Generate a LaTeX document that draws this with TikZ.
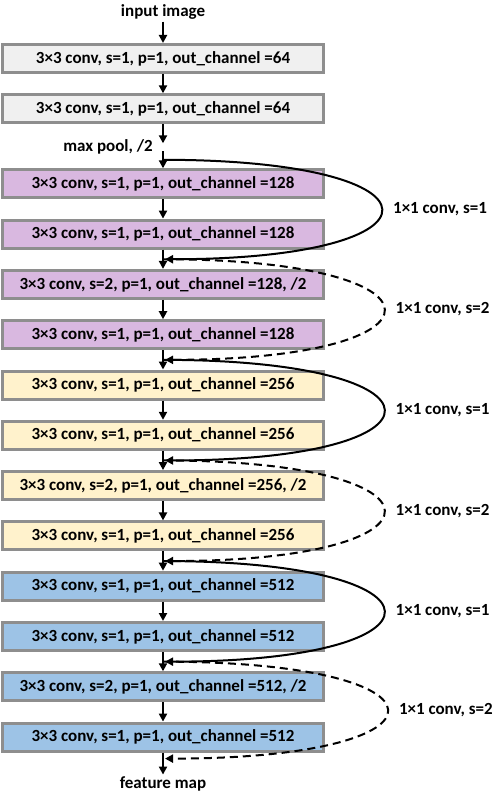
\documentclass[tikz,border=0pt]{standalone}
\usepackage{fontspec}
\setmainfont{Carlito}
\usetikzlibrary{arrows.meta,positioning}

\definecolor{edgegray}{HTML}{8E8E8E}
\definecolor{stemgray}{HTML}{F0F0F0}
\definecolor{stagepurple}{HTML}{D9B8E0}
\definecolor{stageyellow}{HTML}{FFF2CC}
\definecolor{stageblue}{HTML}{9DC3E6}

\begin{document}
\begin{tikzpicture}[
  x=1pt, y=1pt,
  node distance=19.3pt,
  layer/.style={draw=edgegray, line width=3pt, minimum width=321pt,
    minimum height=28pt, inner sep=0pt,
    font=\bfseries\fontsize{17}{20}\selectfont},
  lbl/.style={font=\bfseries\fontsize{17}{20}\selectfont, inner sep=2pt},
  flow/.style={draw, line width=2pt, -{Triangle[length=8pt,width=8pt]}},
  idskip/.style={flow, shorten >=2pt, out=0, in=0, looseness=7.5},
  convskip/.style={idskip, dash pattern=on 8pt off 5pt},
]
\useasboundingbox (0,0) rectangle (496,-794);

\node[lbl] (input) at (163,-12) {input image};
\node[layer, fill=stemgray, anchor=north] (c1) at (163,-43)
  {3×3 conv, s=1, p=1, out\_channel =64};
\node[layer, fill=stemgray, below=of c1] (c2)
  {3×3 conv, s=1, p=1, out\_channel =64};

% max pool between the stem and the first stage
\coordinate[below=19pt of c2] (p1);
\coordinate[below=27pt of c2] (p2);
\path (p1) -- (p2) coordinate[midway] (pm);
\node[lbl, left=8pt of pm] (pool) {max pool, /2};

\node[layer, fill=stagepurple, below=44pt of c2] (c3)
  {3×3 conv, s=1, p=1, out\_channel =128};
\node[layer, fill=stagepurple, below=of c3] (c4)
  {3×3 conv, s=1, p=1, out\_channel =128};
\node[layer, fill=stagepurple, below=of c4] (c5)
  {3×3 conv, s=2, p=1, out\_channel =128, /2};
\node[layer, fill=stagepurple, below=of c5] (c6)
  {3×3 conv, s=1, p=1, out\_channel =128};
\node[layer, fill=stageyellow, below=of c6] (c7)
  {3×3 conv, s=1, p=1, out\_channel =256};
\node[layer, fill=stageyellow, below=of c7] (c8)
  {3×3 conv, s=1, p=1, out\_channel =256};
\node[layer, fill=stageyellow, below=of c8] (c9)
  {3×3 conv, s=2, p=1, out\_channel =256, /2};
\node[layer, fill=stageyellow, below=of c9] (c10)
  {3×3 conv, s=1, p=1, out\_channel =256};
\node[layer, fill=stageblue, below=of c10] (c11)
  {3×3 conv, s=1, p=1, out\_channel =512};
\node[layer, fill=stageblue, below=of c11] (c12)
  {3×3 conv, s=1, p=1, out\_channel =512};
\node[layer, fill=stageblue, below=of c12] (c13)
  {3×3 conv, s=2, p=1, out\_channel =512, /2};
\node[layer, fill=stageblue, below=of c13] (c14)
  {3×3 conv, s=1, p=1, out\_channel =512};
\node[lbl] (output) at (163,-784) {feature map};

% main path
\draw[flow] (input) -- (c1);
\draw[flow] (c1) -- (c2);
\draw[flow] (c2) -- (p1);
\draw[flow] (p2) -- (c3);
\foreach \a/\b in {c3/c4, c4/c5, c5/c6, c6/c7, c7/c8, c8/c9, c9/c10,
  c10/c11, c11/c12, c12/c13, c13/c14, c14/output}
  \draw[flow] (\a) -- (\b);

% join points of the shortcuts
\path (p2) -- (c3.north) coordinate[midway] (s1);
\path (c4.south) -- (c5.north) coordinate[midway] (j1);
\path (c6.south) -- (c7.north) coordinate[midway] (j2);
\path (c8.south) -- (c9.north) coordinate[midway] (j3);
\path (c10.south) -- (c11.north) coordinate[midway] (j4);
\path (c12.south) -- (c13.north) coordinate[midway] (j5);
\coordinate[below=6pt of c14] (j6);

% shortcuts
\draw[idskip] (s1) to node[lbl, pos=0.5, right=9pt] {1×1 conv, s=1} (j1);
\draw[convskip] (j1) to node[lbl, pos=0.5, right=9pt] {1×1 conv, s=2} (j2);
\draw[idskip] (j2) to node[lbl, pos=0.5, right=9pt] {1×1 conv, s=1} (j3);
\draw[convskip] (j3) to node[lbl, pos=0.5, right=9pt] {1×1 conv, s=2} (j4);
\draw[idskip] (j4) to node[lbl, pos=0.5, right=9pt] {1×1 conv, s=1} (j5);
\draw[convskip, looseness=7.9] (j5) to
  node[lbl, pos=0.5, right=9pt] {1×1 conv, s=2} (j6);
\end{tikzpicture}
\end{document}
